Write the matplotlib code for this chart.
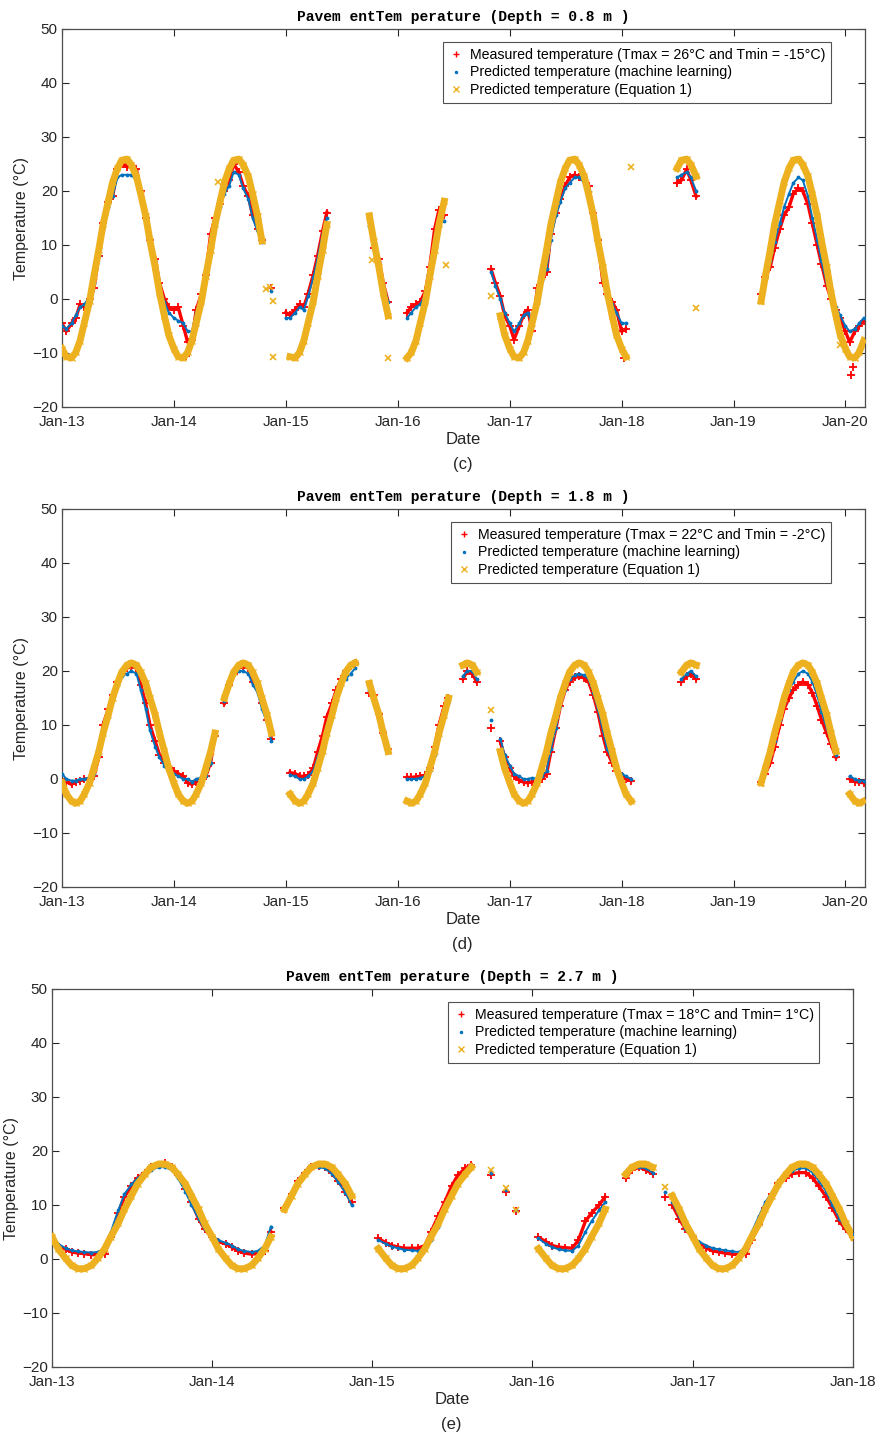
import matplotlib
matplotlib.use("Agg")
import matplotlib.pyplot as plt
import matplotlib.dates as mdates
from matplotlib.lines import Line2D
import numpy as np
import pandas as pd

plt.rcParams['font.family'] = ['Liberation Sans', 'DejaVu Sans']

# Semi-monthly readings (1st and 15th). Each run is (grid index of first value, values).
# Isolated readings that sit off the runs are kept as (date, value).

# ---- depth 0.8 m ----
c_n = 173
c_meas = [
    (0, [-4.5, -6, -4.5, -3.5, -1, -1.5, 0, 2, 8, 14, 18, 19, 24, 25, 24.5, 24.5, 24, 20, 15, 11,
         7.5, 3, 0, -1.5, -2, -1.5, -5, -8, -7.5, -2, 1, 4.5, 12, 15, 17.5, 20, 22, 25, 23.5, 21,
         19, 15.5, 13, 11]),
    (45, [2.0]),
    (48, [-2.5, -3, -2, -1, -1.5, 1, 4.5, 8, 12.5, 16]),
    (67, [9.5, 7.5, 3, -0.5]),
    (74, [-2.5, -1.5, -1, -0.5, 1.5, 6, 13, 16.5, 15.5]),
    (92, [5.5, 3, 0.5, -3, -5, -7.5, -5, -3, -2, -6, 2, 4, 5, 12, 16, 18.5, 21, 22.5, 23, 22.5,
          22, 21, 16, 11, 3, 1, -0.5, -2, -6, -5.5]),
    (132, [21.5, 22, 24, 22, 19]),
    (150, [1, 4, 6, 9.5, 13, 15.5, 17, 19.5, 20.5, 20, 17.5, 14, 10, 6.5, 2.5, 0, -2, -3.5, -6, -8,
           -6, -5, -4]),
]
c_ml = [
    (0, [-5, -5.5, -4.5, -3, -1.5, -1, 0.5, 3, 8, 13, 17, 19, 22.5, 23, 23, 23, 22, 19, 14.5, 11,
         7, 2.5, -0.5, -2.5, -3.5, -4, -4.5, -6, -6, -2.5, 1, 4.5, 11, 14.5, 17, 19.5, 21, 23.5, 23,
         20.5, 18.5, 15, 12.5, 10.5]),
    (45, [1.5]),
    (48, [-3.5, -3.5, -2.5, -1.5, -2, 0.5, 4, 7.5, 12, 15]),
    (66, [13.5, 9, 7, 3, -0.5]),
    (74, [-3.5, -2.5, -1.5, -1, 1, 5, 11.5, 14.5, 14.5]),
    (92, [5, 2.5, 0, -2.5, -4.5, -6, -4.5, -3, -2.5, -4.5, 1.5, 3.5, 5.5, 11, 15.5, 18, 20.5, 21.5,
          22.5, 22.5, 21.5, 20, 15.5, 10.5, 3.5, 1, -1, -2.5, -4.5, -4.5]),
    (132, [22.5, 23, 23.5, 22.5, 20]),
    (150, [1, 4.5, 7, 10.5, 14, 17, 19.5, 21.5, 22.5, 22, 19, 15, 11, 7, 3, 0.5, -1.5, -3, -5, -6,
           -5.5, -4.5, -3.5]),
]
c_eq = [
    (0, [-9.2, -10.7, -10.9, -9.9, -7.7, -4.4, -0.4, 4.2, 9.1, 13.8, 18.1, 21.6, 24.2, 25.7, 25.9,
         24.9, 22.7, 19.4, 15.4, 10.8, 5.9, 1.2, -3.1, -6.6, -9.2, -10.7, -10.9, -9.9, -7.7, -4.4,
         -0.4, 4.2, 9.1, 13.8, 18.1, 21.6, 24.2, 25.7, 25.9, 24.9, 22.7, 19.4, 15.4, 10.8]),
    (49, [-10.7, -10.9, -9.9, -7.7, -4.4, -0.4, 4.2, 9.1, 13.8]),
    (66, [15.4, 10.8, 5.9, 1.2, -3.1]),
    (74, [-10.9, -9.9, -7.7, -4.4, -0.4, 4.2, 9.1, 13.8, 18.1]),
    (94, [-3.1, -6.6, -9.2, -10.7, -10.9, -9.9, -7.7, -4.4, -0.4, 4.2, 9.1, 13.8, 18.1, 21.6, 24.2,
          25.7, 25.9, 24.9, 22.7, 19.4, 15.4, 10.8, 5.9, 1.2, -3.1, -6.6, -9.2, -10.7]),
    (132, [24.2, 25.7, 25.9, 24.9, 22.7]),
    (150, [-0.4, 4.2, 9.1, 13.8, 18.1, 21.6, 24.2, 25.7, 25.9, 24.9, 22.7, 19.4, 15.4, 10.8, 5.9,
           1.2, -3.1, -6.6, -9.2, -10.7, -10.9, -9.9, -7.7]),
]
c_meas_odd = [('2014-02-10', -10.5), ('2018-01-08', -11.0), ('2020-01-20', -14.0),
              ('2020-01-25', -12.5)]
c_ml_odd = []
c_eq_odd = [('2014-05-26', 21.7), ('2014-10-27', 1.9), ('2014-11-12', 2.2), ('2014-11-20', -0.3),
            ('2014-11-22', -10.7), ('2015-10-11', 7.2), ('2015-12-02', -11.0),
            ('2016-06-06', 6.3), ('2016-11-01', 0.5), ('2018-01-30', 24.4),
            ('2018-09-02', -1.7), ('2019-12-13', -8.5)]

# ---- depth 1.8 m ----
d_n = 173
d_meas = [
    (0, [0, -0.5, -1, -0.5, -0.3, 0, 0, 0.5, 4, 10, 13, 15.5, 18, 19.5, 20.5, 21, 20.5, 17.5, 14, 10,
         7, 4.5, 3, 2, 1.5, 1, 0.5, -0.7, -1, -0.5, 0, 0.5, 3, 8]),
    (35, [14, 17.5, 19.5, 20.5, 21, 20.5, 18, 17, 14, 11, 7.5]),
    (49, [1.2, 1, 0.5, 0.5, 0.7, 2, 5, 8, 11.5, 14, 16.5, 18.5, 20, 21, 21.5]),
    (66, [16, 15.5, 12, 8.5, 5.5]),
    (74, [0.3, 0.3, 0.4, 0.5, 0.7, 2, 6, 10, 13.5, 15]),
    (86, [18.5, 20, 19.5, 18]),
    (94, [7, 4, 2, 0.5, -0.2, -0.6, -0.7, -0.5, -0.5, 0, 1, 5, 9.5, 13.5, 16.5, 18, 18.8, 19, 18.7,
          18, 15.5, 12.5, 8, 5, 3, 1.5, 0.5, 0, -0.3]),
    (133, [18, 19, 19.5, 18.5]),
    (150, [-0.5, 1, 3, 6, 10, 13, 15, 16.5, 17.5, 18, 17.5, 16, 13.5, 11, 8.5, 6.5, 4]),
    (169, [0, -0.5, -0.6, -0.7]),
]
d_ml = [
    (0, [1, 0, -0.3, -0.3, 0, 0, 0.3, 1, 4.5, 9.5, 12.5, 15, 17.5, 19, 19.5, 20, 19.5, 16.5, 13, 9,
         6, 4, 2.5, 1.5, 1, 0.5, 0, 0, -0.5, 0, 0.3, 0.5, 3, 8]),
    (35, [14.5, 17.5, 19.5, 20, 20, 19.5, 17.5, 16, 13, 10.5, 7]),
    (49, [0.8, 0.5, 0, 0, 0.5, 1.5, 4, 6.5, 10, 13, 15.5, 17.5, 18.5, 19.5, 20.5]),
    (66, [16.5, 15, 11.5, 8, 5]),
    (74, [0, 0, 0, 0.2, 0.5, 1.5, 4.5, 8, 11.5, 14]),
    (86, [19, 20, 20, 18.5]),
    (94, [7.5, 4.5, 2.5, 1, 0.5, 0, 0, 0.2, 0, 0.5, 1.5, 5.5, 9.5, 13.5, 16.5, 18.5, 19.3, 19.5,
          19.2, 18.5, 16, 13, 9, 5.5, 3.5, 2, 1, 0.5, 0]),
    (133, [18.5, 19.5, 20, 19]),
    (150, [-0.3, 1.5, 4, 7, 11, 14, 16.5, 18, 19.5, 20, 19.5, 18, 15.5, 12.5, 9.5, 7, 4.5]),
    (169, [0.5, 0, -0.3, -0.3]),
]
d_eq = [
    (0, [-0.7, -2.8, -4.1, -4.5, -4.1, -2.8, -0.7, 2.0, 5.1, 8.5, 11.9, 15.0, 17.7, 19.8, 21.1,
         21.5, 21.1, 19.8, 17.7, 15.0, 11.9, 8.5, 5.1, 2.0, -0.7, -2.8, -4.1, -4.5, -4.1, -2.8,
         -0.7, 2.0, 5.1, 8.5]),
    (35, [15.0, 17.7, 19.8, 21.1, 21.5, 21.1, 19.8, 17.7, 15.0, 11.9, 8.5]),
    (49, [-2.8, -4.1, -4.5, -4.1, -2.8, -0.7, 2.0, 5.1, 8.5, 11.9, 15.0, 17.7, 19.8, 21.1, 21.5]),
    (66, [17.7, 15.0, 11.9, 8.5, 5.1]),
    (74, [-4.1, -4.5, -4.1, -2.8, -0.7, 2.0, 5.1, 8.5, 11.9, 15.0]),
    (86, [21.1, 21.5, 21.1, 19.8]),
    (94, [5.1, 2.0, -0.7, -2.8, -4.1, -4.5, -4.1, -2.8, -0.7, 2.0, 5.1, 8.5, 11.9, 15.0, 17.7,
          19.8, 21.1, 21.5, 21.1, 19.8, 17.7, 15.0, 11.9, 8.5, 5.1, 2.0, -0.7, -2.8, -4.1]),
    (133, [19.8, 21.1, 21.5, 21.1]),
    (150, [-0.7, 2.0, 5.1, 8.5, 11.9, 15.0, 17.7, 19.8, 21.1, 21.5, 21.1, 19.8, 17.7, 15.0, 11.9,
           8.5, 5.1]),
    (169, [-2.8, -4.1, -4.5, -4.1]),
]
d_meas_odd = [('2016-11-01', 9.5)]
d_ml_odd = [('2016-11-01', 11.0)]
d_eq_odd = [('2016-11-01', 12.8)]

# ---- depth 2.7 m ----
e_n = 121
e_meas = [
    (0, [3.2, 2.5, 1.8, 1.3, 1.1, 1, 0.8, 0.8, 0.9, 4, 8.5, 11.5, 13.5, 15, 16, 17, 17.5, 17.8, 17,
         15.5, 13, 10.5, 7.5, 5.5, 4, 3.2, 2.8, 2.2, 1.5, 1.1, 0.9, 1, 1.5, 5]),
    (35, [9.5, 12, 14.5, 16, 17, 17.3, 17, 16, 14.5, 12.5, 10.5]),
    (49, [3.8, 3, 2.5, 2.2, 2, 2, 2, 2.5, 5, 8, 10.5, 13.5, 15.5, 16.8, 17.5]),
    (73, [4, 3.2, 2.5, 2.2, 2.1, 2, 3.5, 7, 8.5, 10, 11.5]),
    (86, [15, 16.5, 17, 16.5, 15.8]),
    (93, [10, 7.5, 5.5, 4, 2.8, 2, 1.5, 1.3, 1.1, 0.9, 0.8, 0.9, 3.5, 6.5, 9.5, 12, 14, 15, 15.8,
          16, 16, 15, 13.5, 11.5, 9.5, 7, 5.5, 4]),
]
e_ml = [
    (0, [3.8, 2.8, 2, 1.6, 1.4, 1.3, 1.2, 1.3, 2, 5, 9, 12, 13.8, 15, 16, 16.5, 17, 17, 16.5, 15,
         12.5, 10, 7.5, 5.5, 4.3, 3.5, 3, 2.5, 1.8, 1.5, 1.3, 1.5, 2.5, 6]),
    (35, [9.8, 12.5, 14.5, 16, 16.8, 17, 16.8, 15.8, 14.3, 12.3, 10]),
    (49, [3.5, 2.8, 2.3, 2, 1.7, 1.6, 1.5, 2, 3.5, 6, 9, 12, 14.5, 16, 17]),
    (73, [3.8, 2.8, 2.2, 1.8, 1.6, 1.5, 2.5, 5, 7, 9, 10.5]),
    (86, [15.5, 17, 17, 16.8, 16]),
    (93, [10.5, 8, 5.5, 4.2, 3.2, 2.5, 2, 1.8, 1.6, 1.4, 1.3, 2, 5, 8, 10.5, 12.5, 14.5, 15.5,
          16.3, 16.8, 16.8, 16, 14.5, 12.5, 10, 7.5, 5.8, 4.5]),
]
e_eq = [
    (0, [4.1, 1.9, 0.1, -1.2, -1.8, -1.8, -1.2, 0.1, 1.9, 4.1, 6.6, 9.2, 11.7, 13.9, 15.7, 17.0,
         17.6, 17.6, 17.0, 15.7, 13.9, 11.7, 9.2, 6.6, 4.1, 1.9, 0.1, -1.2, -1.8, -1.8, -1.2, 0.1,
         1.9, 4.1]),
    (35, [9.2, 11.7, 13.9, 15.7, 17.0, 17.6, 17.6, 17.0, 15.7, 13.9, 11.7]),
    (49, [1.9, 0.1, -1.2, -1.8, -1.8, -1.2, 0.1, 1.9, 4.1, 6.6, 9.2, 11.7, 13.9, 15.7, 17.0]),
    (73, [1.9, 0.1, -1.2, -1.8, -1.8, -1.2, 0.1, 1.9, 4.1, 6.6, 9.2]),
    (86, [15.7, 17.0, 17.6, 17.6, 17.0]),
    (93, [11.7, 9.2, 6.6, 4.1, 1.9, 0.1, -1.2, -1.8, -1.8, -1.2, 0.1, 1.9, 4.1, 6.6, 9.2, 11.7,
          13.9, 15.7, 17.0, 17.6, 17.6, 17.0, 15.7, 13.9, 11.7, 9.2, 6.6, 4.1]),
]
e_meas_odd = [('2015-09-29', 15.6), ('2015-11-02', 12.5), ('2015-11-25', 8.8), ('2016-10-29', 11.5)]
e_ml_odd = [('2015-09-29', 16.0), ('2015-11-02', 12.8), ('2015-11-25', 9.0), ('2016-10-29', 12.5)]
e_eq_odd = [('2015-09-29', 16.5), ('2015-11-02', 13.2), ('2015-11-25', 9.0), ('2016-10-29', 13.4)]

depths = ['0.8', '1.8', '2.7']
legend_first = ['Measured temperature (Tmax = 26°C and Tmin = -15°C)',
                'Measured temperature (Tmax = 22°C and Tmin = -2°C)',
                'Measured temperature (Tmax = 18°C and Tmin= 1°C)']
letters = ['(c)', '(d)', '(e)']
x_ends = ['2020-03-05', '2020-03-05', '2018-01-01']

RED = '#FF0000'
BLUE = '#0072BD'
ORANGE = '#EDB120'


def on_grid(runs, n):
    vals = np.full(n, np.nan)
    for start, run in runs:
        vals[start:start + len(run)] = run
    return vals


def odd_points(pts):
    return pd.to_datetime([p[0] for p in pts]), [p[1] for p in pts]


fig = plt.figure(figsize=(8.8, 14.36), dpi=100)
W, H = 880, 1436
boxes = [(62, 29, 865, 407), (62, 509, 865, 887), (52, 989, 853, 1367)]
panels = [(c_n, c_meas, c_ml, c_eq, c_meas_odd, c_ml_odd, c_eq_odd),
          (d_n, d_meas, d_ml, d_eq, d_meas_odd, d_ml_odd, d_eq_odd),
          (e_n, e_meas, e_ml, e_eq, e_meas_odd, e_ml_odd, e_eq_odd)]

for i, (n, meas, ml, eq, meas_odd, ml_odd, eq_odd) in enumerate(panels):
    x0, y0, x1, y1 = boxes[i]
    ax = fig.add_axes([x0 / W, 1 - y1 / H, (x1 - x0) / W, (y1 - y0) / H])
    dates = pd.date_range('2013-01-01', periods=n, freq='SMS')

    ax.plot(dates, on_grid(meas, n), color=RED, lw=2.4, marker='+', ms=6, mew=1.3, zorder=2)
    ax.plot(dates, on_grid(ml, n), color=BLUE, lw=1.4, marker='.', ms=3.5, zorder=3)
    ax.plot(dates, on_grid(eq, n), color=ORANGE, lw=5, marker='x', ms=4.5, zorder=4)
    if meas_odd:
        ax.plot(*odd_points(meas_odd), ls='none', color=RED, marker='+', ms=6, mew=1.3, zorder=2)
    if ml_odd:
        ax.plot(*odd_points(ml_odd), ls='none', color=BLUE, marker='.', ms=3.5, zorder=3)
    if eq_odd:
        ax.plot(*odd_points(eq_odd), ls='none', color=ORANGE, marker='x', ms=4, mew=1.2, zorder=4)

    ax.set_xlim(pd.Timestamp('2013-01-01'), pd.Timestamp(x_ends[i]))
    ax.set_ylim(-20, 50)
    ax.set_yticks(range(-20, 51, 10))
    ax.xaxis.set_major_locator(mdates.YearLocator())
    ax.xaxis.set_major_formatter(mdates.DateFormatter('%b-%y'))
    ax.tick_params(direction='in', top=True, right=True, length=5, width=0.8,
                   color='#262626', labelsize=11, labelcolor='#262626')
    ax.tick_params(axis='x', pad=6)
    ax.tick_params(axis='y', pad=3)
    for sp in ax.spines.values():
        sp.set_color('#4d4d4d')
        sp.set_linewidth(0.9)

    ax.set_title('Pavem entTem perature (Depth = %s m )' % depths[i],
                 family=['Liberation Mono', 'DejaVu Sans Mono'], fontweight='bold',
                 fontsize=10.5, pad=6)
    ax.set_ylabel('Temperature (°C)', fontsize=11.5, color='#262626', labelpad=2)
    ax.set_xlabel('Date', fontsize=12, color='#262626', labelpad=2)
    fig.text(((x0 + x1) / 2 - 1) / W, 1 - (y1 + 57) / H, letters[i], ha='center',
             va='center', fontsize=12, color='#262626')

    handles = [Line2D([], [], ls='none', marker='+', color=RED, ms=5, mew=1.0),
               Line2D([], [], ls='none', marker='.', color=BLUE, ms=3),
               Line2D([], [], ls='none', marker='x', color=ORANGE, ms=4)]
    labels = [legend_first[i], 'Predicted temperature (machine learning)',
              'Predicted temperature (Equation 1)']
    leg = ax.legend(handles, labels, loc='upper right', bbox_to_anchor=(0.958, 0.966),
                    borderaxespad=0, fontsize=10.2, frameon=True, fancybox=False,
                    edgecolor='#262626', handlelength=1.0, handletextpad=0.5,
                    labelspacing=0.28, borderpad=0.4)
    leg.get_frame().set_linewidth(0.8)

fig.savefig('out.png', dpi=100)
